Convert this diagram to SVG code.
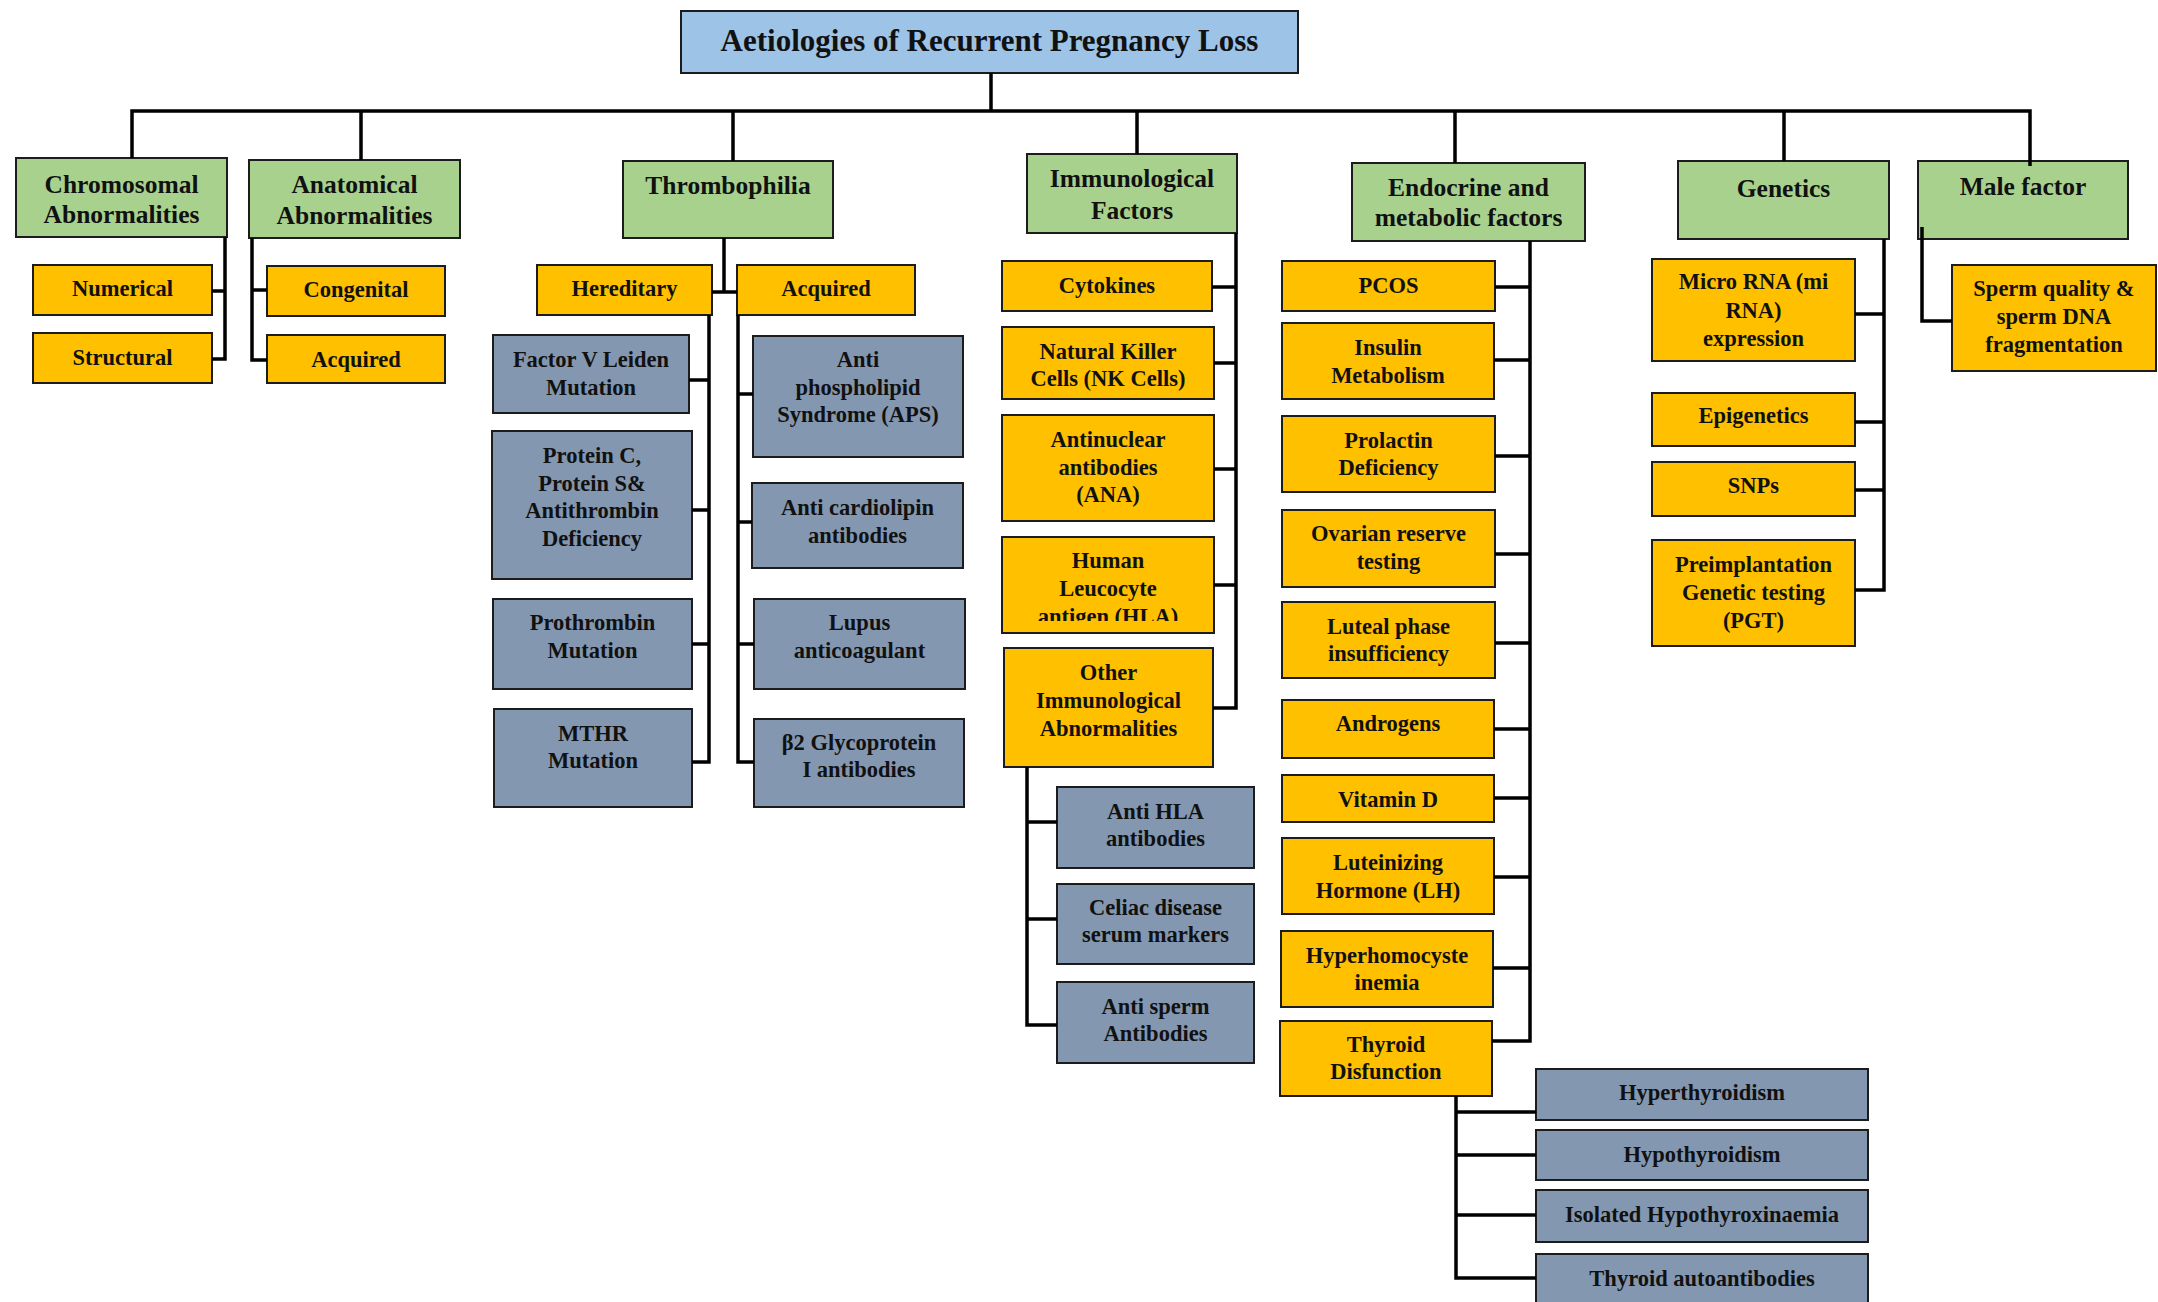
<svg xmlns="http://www.w3.org/2000/svg" width="2158" height="1302" viewBox="0 0 2158 1302">
<style>
rect{stroke:#1c1c1c;stroke-width:2}
.b{fill:#9DC3E6}.g{fill:#A9D18E}.o{fill:#FFC000}.s{fill:#8497B0}
text{font-family:"Liberation Serif","Times New Roman",serif;font-weight:bold;fill:#111;text-anchor:middle}
.h{font-size:25.5px}.c{font-size:22.5px}.tt{font-size:31px}
.cn path{fill:none;stroke:#000;stroke-width:3.5;stroke-linejoin:miter}
</style>
<defs><clipPath id="clipHLA"><rect x="1002" y="537" width="212" height="84" style="stroke:none"/></clipPath></defs>
<rect width="2158" height="1302" fill="#fff" style="stroke:none"/>

<g id="root"><rect class="b" x="681" y="11" width="617" height="62"/><text class="tt" x="989.5" y="51">Aetiologies of Recurrent Pregnancy Loss</text></g>

<g id="chromosomal"><rect class="g" x="16" y="158" width="211" height="79"/><text class="h"><tspan x="121.5" y="193">Chromosomal</tspan><tspan x="121.5" y="223">Abnormalities</tspan></text></g>
<g id="anatomical"><rect class="g" x="249" y="160" width="211" height="78"/><text class="h"><tspan x="354.5" y="193">Anatomical</tspan><tspan x="354.5" y="224">Abnormalities</tspan></text></g>
<g id="thrombophilia"><rect class="g" x="623" y="161" width="210" height="77"/><text class="h" x="728" y="194">Thrombophilia</text></g>
<g id="immunological"><rect class="g" x="1027" y="154" width="210" height="79"/><text class="h"><tspan x="1132" y="187">Immunological</tspan><tspan x="1132" y="219">Factors</tspan></text></g>
<g id="endocrine"><rect class="g" x="1352" y="163" width="233" height="78"/><text class="h"><tspan x="1468.5" y="196">Endocrine and</tspan><tspan x="1468.5" y="226">metabolic factors</tspan></text></g>
<g id="genetics"><rect class="g" x="1678" y="161" width="211" height="78"/><text class="h" x="1783.5" y="197">Genetics</text></g>
<g id="male"><rect class="g" x="1918" y="161" width="210" height="78"/><text class="h" x="2023" y="195">Male factor</text></g>

<g id="numerical"><rect class="o" x="33" y="265" width="179" height="50"/><text class="c" x="122.5" y="296">Numerical</text></g>
<g id="structural"><rect class="o" x="33" y="333" width="179" height="50"/><text class="c" x="122.5" y="365">Structural</text></g>
<g id="congenital"><rect class="o" x="267" y="266" width="178" height="50"/><text class="c" x="356" y="297">Congenital</text></g>
<g id="acquired-anat"><rect class="o" x="267" y="335" width="178" height="48"/><text class="c" x="356" y="367">Acquired</text></g>

<g id="hereditary"><rect class="o" x="537" y="265" width="175" height="50"/><text class="c" x="624.5" y="296">Hereditary</text></g>
<g id="acquired-thr"><rect class="o" x="737" y="265" width="178" height="50"/><text class="c" x="826" y="296">Acquired</text></g>
<g id="factorv"><rect class="s" x="493" y="335" width="196" height="78"/><text class="c"><tspan x="591" y="367">Factor V Leiden</tspan><tspan x="591" y="394.5">Mutation</tspan></text></g>
<g id="proteinc"><rect class="s" x="492" y="431" width="200" height="148"/><text class="c"><tspan x="592" y="463">Protein C,</tspan><tspan x="592" y="490.5">Protein S&amp;</tspan><tspan x="592" y="518">Antithrombin</tspan><tspan x="592" y="546">Deficiency</tspan></text></g>
<g id="prothrombin"><rect class="s" x="493" y="599" width="199" height="90"/><text class="c"><tspan x="592.5" y="630">Prothrombin</tspan><tspan x="592.5" y="658">Mutation</tspan></text></g>
<g id="mthr"><rect class="s" x="494" y="709" width="198" height="98"/><text class="c"><tspan x="593" y="741">MTHR</tspan><tspan x="593" y="768">Mutation</tspan></text></g>
<g id="aps"><rect class="s" x="753" y="336" width="210" height="121"/><text class="c"><tspan x="858" y="367">Anti</tspan><tspan x="858" y="394.5">phospholipid</tspan><tspan x="858" y="422">Syndrome (APS)</tspan></text></g>
<g id="cardiolipin"><rect class="s" x="752" y="483" width="211" height="85"/><text class="c"><tspan x="857.5" y="515">Anti cardiolipin</tspan><tspan x="857.5" y="543">antibodies</tspan></text></g>
<g id="lupus"><rect class="s" x="754" y="599" width="211" height="90"/><text class="c"><tspan x="859.5" y="630">Lupus</tspan><tspan x="859.5" y="658">anticoagulant</tspan></text></g>
<g id="b2gp"><rect class="s" x="754" y="719" width="210" height="88"/><text class="c"><tspan x="859" y="750">β2 Glycoprotein</tspan><tspan x="859" y="777">I antibodies</tspan></text></g>

<g id="cytokines"><rect class="o" x="1002" y="261" width="210" height="50"/><text class="c" x="1107" y="293">Cytokines</text></g>
<g id="nk"><rect class="o" x="1002" y="327" width="212" height="72"/><text class="c"><tspan x="1108" y="358.5">Natural Killer</tspan><tspan x="1108" y="386">Cells (NK Cells)</tspan></text></g>
<g id="ana"><rect class="o" x="1002" y="415" width="212" height="106"/><text class="c"><tspan x="1108" y="447">Antinuclear</tspan><tspan x="1108" y="474.5">antibodies</tspan><tspan x="1108" y="502">(ANA)</tspan></text></g>
<g id="hla"><rect class="o" x="1002" y="537" width="212" height="96"/><text class="c" clip-path="url(#clipHLA)"><tspan x="1108" y="568">Human</tspan><tspan x="1108" y="596">Leucocyte</tspan><tspan x="1108" y="624">antigen (HLA)</tspan></text></g>
<g id="other"><rect class="o" x="1004" y="648" width="209" height="119"/><text class="c"><tspan x="1108.5" y="680">Other</tspan><tspan x="1108.5" y="708">Immunological</tspan><tspan x="1108.5" y="736">Abnormalities</tspan></text></g>
<g id="antihla"><rect class="s" x="1057" y="787" width="197" height="81"/><text class="c"><tspan x="1155.5" y="818.5">Anti HLA</tspan><tspan x="1155.5" y="845.5">antibodies</tspan></text></g>
<g id="celiac"><rect class="s" x="1057" y="884" width="197" height="80"/><text class="c"><tspan x="1155.5" y="915">Celiac disease</tspan><tspan x="1155.5" y="942">serum markers</tspan></text></g>
<g id="antisperm"><rect class="s" x="1057" y="982" width="197" height="81"/><text class="c"><tspan x="1155.5" y="1013.5">Anti sperm</tspan><tspan x="1155.5" y="1041">Antibodies</tspan></text></g>

<g id="pcos"><rect class="o" x="1282" y="261" width="213" height="50"/><text class="c" x="1388.5" y="293">PCOS</text></g>
<g id="insulin"><rect class="o" x="1282" y="323" width="212" height="76"/><text class="c"><tspan x="1388" y="355">Insulin</tspan><tspan x="1388" y="382.5">Metabolism</tspan></text></g>
<g id="prolactin"><rect class="o" x="1282" y="416" width="213" height="76"/><text class="c"><tspan x="1388.5" y="448">Prolactin</tspan><tspan x="1388.5" y="474.5">Deficiency</tspan></text></g>
<g id="ovarian"><rect class="o" x="1282" y="510" width="213" height="77"/><text class="c"><tspan x="1388.5" y="541">Ovarian reserve</tspan><tspan x="1388.5" y="569">testing</tspan></text></g>
<g id="luteal"><rect class="o" x="1282" y="602" width="213" height="76"/><text class="c"><tspan x="1388.5" y="634">Luteal phase</tspan><tspan x="1388.5" y="661">insufficiency</tspan></text></g>
<g id="androgens"><rect class="o" x="1282" y="700" width="212" height="58"/><text class="c" x="1388" y="731">Androgens</text></g>
<g id="vitd"><rect class="o" x="1282" y="775" width="212" height="47"/><text class="c" x="1388" y="807">Vitamin D</text></g>
<g id="lh"><rect class="o" x="1282" y="838" width="212" height="76"/><text class="c"><tspan x="1388" y="870">Luteinizing</tspan><tspan x="1388" y="897.5">Hormone (LH)</tspan></text></g>
<g id="hhcy"><rect class="o" x="1281" y="931" width="212" height="76"/><text class="c"><tspan x="1387" y="963">Hyperhomocyste</tspan><tspan x="1387" y="990">inemia</tspan></text></g>
<g id="thyroid"><rect class="o" x="1280" y="1021" width="212" height="75"/><text class="c"><tspan x="1386" y="1051.5">Thyroid</tspan><tspan x="1386" y="1079">Disfunction</tspan></text></g>
<g id="hyper"><rect class="s" x="1536" y="1069" width="332" height="51"/><text class="c" x="1702" y="1100">Hyperthyroidism</text></g>
<g id="hypo"><rect class="s" x="1536" y="1130" width="332" height="50"/><text class="c" x="1702" y="1162">Hypothyroidism</text></g>
<g id="isolated"><rect class="s" x="1536" y="1190" width="332" height="52"/><text class="c" x="1702" y="1222">Isolated Hypothyroxinaemia</text></g>
<g id="tauto"><rect class="s" x="1536" y="1254" width="332" height="56"/><text class="c" x="1702" y="1286">Thyroid autoantibodies</text></g>

<g id="mirna"><rect class="o" x="1652" y="259" width="203" height="102"/><text class="c"><tspan x="1753.5" y="289">Micro RNA (mi</tspan><tspan x="1753.5" y="318">RNA)</tspan><tspan x="1753.5" y="346">expression</tspan></text></g>
<g id="epigenetics"><rect class="o" x="1652" y="393" width="203" height="53"/><text class="c" x="1753.5" y="423">Epigenetics</text></g>
<g id="snps"><rect class="o" x="1652" y="462" width="203" height="54"/><text class="c" x="1753.5" y="493">SNPs</text></g>
<g id="pgt"><rect class="o" x="1652" y="540" width="203" height="106"/><text class="c"><tspan x="1753.5" y="572">Preimplantation</tspan><tspan x="1753.5" y="600">Genetic testing</tspan><tspan x="1753.5" y="628">(PGT)</tspan></text></g>
<g id="sperm"><rect class="o" x="1952" y="265" width="204" height="106"/><text class="c"><tspan x="2054" y="296">Sperm quality &amp;</tspan><tspan x="2054" y="324">sperm DNA</tspan><tspan x="2054" y="352">fragmentation</tspan></text></g>

<g id="connectors" class="cn">
<path d="M991,73 V111"/>
<path d="M132,158 V111 H2030 V166"/>
<path d="M361,111 V160 M733,111 V161 M1137,111 V154 M1455,111 V163 M1784,111 V161"/>
<path d="M225,237 V359 H212 M225,291 H212"/>
<path d="M252,238 V360 H267 M252,290 H267"/>
<path d="M724,238 V292 M712,292 H737"/>
<path d="M709,315 V762 H692 M709,380 H689 M709,510 H692 M709,644 H692"/>
<path d="M738,315 V762 H754 M738,394 H753 M738,522 H752 M738,644 H754"/>
<path d="M1236,233 V708 H1213 M1236,287 H1212 M1236,363 H1214 M1236,469 H1214 M1236,585 H1214"/>
<path d="M1027,767 V1025 H1057 M1027,822 H1057 M1027,919 H1057"/>
<path d="M1530,241 V1041 H1492 M1530,287 H1495 M1530,360 H1494 M1530,456 H1495 M1530,554 H1495 M1530,643 H1495 M1530,729 H1494 M1530,798 H1494 M1530,877 H1494 M1530,968 H1493"/>
<path d="M1456,1096 V1278 H1536 M1456,1112 H1536 M1456,1155 H1536 M1456,1215 H1536"/>
<path d="M1884,239 V590 H1855 M1884,314 H1855 M1884,422 H1855 M1884,490 H1855"/>
<path d="M1922,227 V321 H1952"/>
</g>
</svg>
